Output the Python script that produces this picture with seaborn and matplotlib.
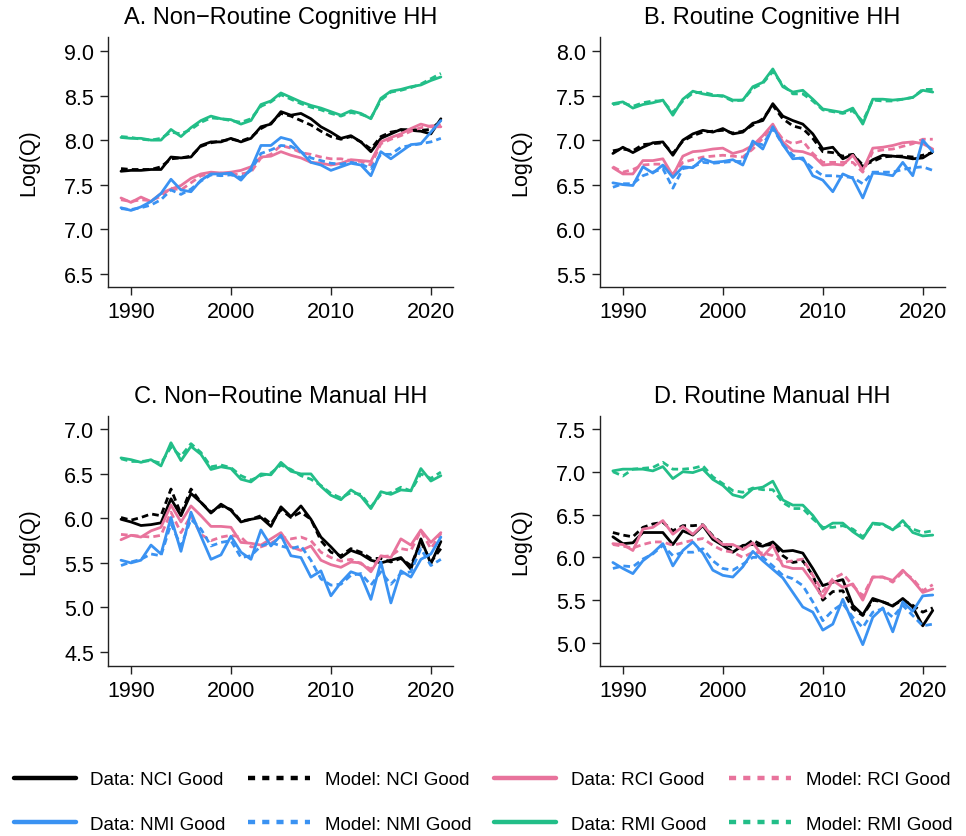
import numpy as np
import pandas as pd
import matplotlib.pyplot as plt
import seaborn as sns
from matplotlib.lines import Line2D

years = list(range(1989, 2022))

# Panel A: Non-Routine Cognitive HH
a_data_nci = [7.65, 7.66, 7.66, 7.67, 7.67, 7.81, 7.80, 7.81, 7.94, 7.98, 7.98, 8.02, 7.98, 8.02, 8.15, 8.18, 8.32, 8.28, 8.30, 8.24, 8.15, 8.09, 8.02, 8.05, 7.98, 7.87, 8.02, 8.07, 8.12, 8.11, 8.10, 8.07, 8.24]
a_model_nci = [7.68, 7.67, 7.67, 7.67, 7.70, 7.79, 7.80, 7.82, 7.93, 7.97, 7.99, 8.01, 7.99, 8.03, 8.13, 8.19, 8.30, 8.27, 8.22, 8.17, 8.10, 8.04, 8.01, 8.04, 7.98, 7.90, 8.04, 8.09, 8.11, 8.12, 8.11, 8.12, 8.22]
a_data_rci = [7.35, 7.30, 7.36, 7.31, 7.40, 7.45, 7.49, 7.57, 7.62, 7.64, 7.63, 7.64, 7.66, 7.70, 7.81, 7.82, 7.87, 7.83, 7.80, 7.75, 7.74, 7.72, 7.74, 7.78, 7.77, 7.76, 7.98, 8.03, 8.07, 8.13, 8.18, 8.15, 8.15]
a_model_rci = [7.33, 7.31, 7.33, 7.32, 7.37, 7.46, 7.44, 7.52, 7.60, 7.62, 7.63, 7.61, 7.62, 7.64, 7.80, 7.84, 7.94, 7.91, 7.86, 7.84, 7.81, 7.79, 7.79, 7.77, 7.76, 7.72, 7.96, 8.01, 8.05, 8.10, 8.14, 8.16, 8.17]
a_data_nmi = [7.24, 7.21, 7.25, 7.31, 7.40, 7.56, 7.44, 7.42, 7.55, 7.62, 7.62, 7.63, 7.55, 7.68, 7.94, 7.94, 8.03, 8.00, 7.87, 7.75, 7.72, 7.66, 7.70, 7.74, 7.72, 7.60, 7.87, 7.79, 7.87, 7.95, 7.96, 8.09, 8.22]
a_model_nmi = [7.23, 7.22, 7.24, 7.27, 7.33, 7.44, 7.39, 7.45, 7.54, 7.61, 7.60, 7.61, 7.58, 7.66, 7.85, 7.89, 7.94, 7.93, 7.87, 7.80, 7.77, 7.74, 7.73, 7.75, 7.73, 7.68, 7.84, 7.84, 7.92, 7.94, 7.96, 7.98, 8.02]
a_data_rmi = [8.03, 8.02, 8.02, 8.00, 8.00, 8.12, 8.04, 8.14, 8.22, 8.27, 8.24, 8.23, 8.18, 8.22, 8.40, 8.44, 8.53, 8.48, 8.43, 8.39, 8.36, 8.32, 8.28, 8.33, 8.30, 8.24, 8.47, 8.55, 8.57, 8.60, 8.62, 8.67, 8.71]
a_model_rmi = [8.04, 8.03, 8.01, 8.00, 8.02, 8.09, 8.07, 8.12, 8.20, 8.25, 8.24, 8.22, 8.20, 8.24, 8.38, 8.43, 8.51, 8.46, 8.41, 8.37, 8.34, 8.30, 8.27, 8.31, 8.29, 8.25, 8.45, 8.54, 8.56, 8.59, 8.63, 8.69, 8.75]

# Panel B: Routine Cognitive HH
b_data_nci = [6.85, 6.92, 6.86, 6.92, 6.97, 6.98, 6.83, 7.00, 7.07, 7.11, 7.09, 7.13, 7.07, 7.09, 7.19, 7.22, 7.41, 7.27, 7.22, 7.18, 7.07, 6.90, 6.92, 6.79, 6.84, 6.70, 6.78, 6.83, 6.82, 6.81, 6.79, 6.80, 6.87]
b_model_nci = [6.88, 6.90, 6.88, 6.95, 6.96, 6.97, 6.85, 6.99, 7.05, 7.09, 7.10, 7.11, 7.08, 7.10, 7.17, 7.24, 7.39, 7.24, 7.16, 7.13, 7.02, 6.87, 6.86, 6.82, 6.84, 6.72, 6.76, 6.81, 6.82, 6.82, 6.81, 6.83, 6.86]
b_data_rci = [6.69, 6.62, 6.62, 6.77, 6.77, 6.79, 6.60, 6.82, 6.87, 6.88, 6.90, 6.91, 6.85, 6.88, 6.94, 7.05, 7.18, 6.98, 6.88, 6.87, 6.83, 6.72, 6.73, 6.72, 6.83, 6.66, 6.91, 6.92, 6.94, 6.97, 6.98, 6.96, 6.90]
b_model_rci = [6.70, 6.64, 6.67, 6.72, 6.73, 6.73, 6.62, 6.75, 6.78, 6.81, 6.82, 6.83, 6.82, 6.81, 6.90, 7.02, 7.16, 7.01, 6.96, 6.99, 6.85, 6.75, 6.75, 6.75, 6.75, 6.64, 6.87, 6.89, 6.90, 6.93, 6.96, 7.01, 7.01]
b_data_nmi = [6.52, 6.50, 6.49, 6.70, 6.63, 6.72, 6.58, 6.70, 6.69, 6.79, 6.75, 6.76, 6.78, 6.72, 6.99, 6.90, 7.15, 6.95, 6.79, 6.80, 6.60, 6.55, 6.42, 6.62, 6.57, 6.35, 6.63, 6.62, 6.60, 6.75, 6.60, 7.00, 6.87]
b_model_nmi = [6.47, 6.51, 6.51, 6.60, 6.64, 6.68, 6.46, 6.68, 6.70, 6.75, 6.74, 6.75, 6.76, 6.76, 6.96, 6.95, 7.13, 6.95, 6.83, 6.78, 6.68, 6.60, 6.60, 6.59, 6.58, 6.51, 6.64, 6.64, 6.64, 6.67, 6.69, 6.70, 6.66]
b_data_rmi = [7.41, 7.43, 7.36, 7.40, 7.42, 7.45, 7.28, 7.46, 7.55, 7.52, 7.50, 7.50, 7.45, 7.45, 7.60, 7.65, 7.80, 7.60, 7.54, 7.56, 7.46, 7.35, 7.33, 7.31, 7.36, 7.18, 7.46, 7.46, 7.45, 7.46, 7.48, 7.56, 7.54]
b_model_rmi = [7.40, 7.42, 7.38, 7.42, 7.44, 7.44, 7.31, 7.44, 7.53, 7.54, 7.51, 7.49, 7.44, 7.45, 7.58, 7.64, 7.77, 7.62, 7.52, 7.52, 7.44, 7.34, 7.32, 7.30, 7.33, 7.21, 7.45, 7.44, 7.44, 7.46, 7.48, 7.57, 7.57]

# Panel C: Non-Routine Manual HH
c_data_nci = [5.99, 5.96, 5.92, 5.93, 5.95, 6.22, 6.03, 6.28, 6.18, 6.06, 6.16, 6.09, 5.96, 5.99, 6.01, 5.91, 6.13, 6.02, 6.14, 5.99, 5.79, 5.68, 5.56, 5.64, 5.60, 5.53, 5.50, 5.53, 5.56, 5.43, 5.77, 5.49, 5.74]
c_model_nci = [6.01, 5.98, 6.01, 6.05, 6.03, 6.33, 6.05, 6.33, 6.18, 6.07, 6.14, 6.10, 5.97, 5.99, 6.03, 5.94, 6.10, 6.01, 6.07, 5.99, 5.75, 5.62, 5.58, 5.66, 5.62, 5.55, 5.55, 5.51, 5.55, 5.47, 5.74, 5.51, 5.66]
c_data_rci = [5.76, 5.81, 5.79, 5.86, 5.90, 6.15, 5.96, 6.14, 6.03, 5.91, 5.91, 5.90, 5.73, 5.72, 5.70, 5.77, 5.84, 5.68, 5.64, 5.69, 5.53, 5.48, 5.45, 5.51, 5.50, 5.40, 5.58, 5.56, 5.77, 5.70, 5.87, 5.73, 5.84]
c_model_rci = [5.82, 5.81, 5.80, 5.79, 5.81, 6.07, 5.84, 6.03, 5.82, 5.75, 5.79, 5.81, 5.79, 5.68, 5.68, 5.72, 5.79, 5.77, 5.79, 5.75, 5.62, 5.56, 5.52, 5.54, 5.49, 5.43, 5.57, 5.58, 5.66, 5.64, 5.86, 5.66, 5.83]
c_data_nmi = [5.53, 5.50, 5.53, 5.70, 5.60, 6.01, 5.63, 6.07, 5.80, 5.54, 5.59, 5.80, 5.62, 5.54, 5.87, 5.69, 5.81, 5.58, 5.56, 5.34, 5.41, 5.13, 5.28, 5.40, 5.36, 5.09, 5.51, 5.05, 5.41, 5.34, 5.54, 5.60, 5.79]
c_model_nmi = [5.47, 5.51, 5.54, 5.60, 5.58, 5.94, 5.69, 5.99, 5.88, 5.69, 5.73, 5.75, 5.56, 5.58, 5.69, 5.73, 5.69, 5.66, 5.69, 5.53, 5.32, 5.25, 5.26, 5.36, 5.38, 5.25, 5.40, 5.26, 5.38, 5.40, 5.66, 5.47, 5.54]
c_data_rmi = [6.68, 6.66, 6.63, 6.66, 6.59, 6.85, 6.65, 6.81, 6.72, 6.55, 6.58, 6.56, 6.44, 6.41, 6.50, 6.49, 6.63, 6.53, 6.50, 6.50, 6.36, 6.26, 6.21, 6.32, 6.25, 6.11, 6.30, 6.27, 6.32, 6.31, 6.56, 6.42, 6.48]
c_model_rmi = [6.67, 6.64, 6.64, 6.65, 6.62, 6.80, 6.70, 6.84, 6.74, 6.58, 6.60, 6.57, 6.48, 6.43, 6.48, 6.51, 6.60, 6.55, 6.48, 6.44, 6.37, 6.28, 6.23, 6.29, 6.27, 6.13, 6.27, 6.29, 6.35, 6.31, 6.50, 6.45, 6.52]

# Panel D: Routine Manual HH
d_data_nci = [6.24, 6.16, 6.17, 6.29, 6.29, 6.29, 6.15, 6.31, 6.26, 6.37, 6.21, 6.14, 6.06, 6.14, 6.15, 6.13, 6.18, 6.07, 6.08, 6.05, 5.87, 5.67, 5.71, 5.74, 5.44, 5.33, 5.52, 5.48, 5.43, 5.52, 5.42, 5.20, 5.38]
d_model_nci = [6.29, 6.26, 6.24, 6.35, 6.39, 6.41, 6.31, 6.37, 6.37, 6.38, 6.25, 6.16, 6.12, 6.12, 6.20, 6.14, 6.15, 6.02, 5.94, 5.96, 5.79, 5.50, 5.60, 5.61, 5.40, 5.32, 5.50, 5.48, 5.44, 5.50, 5.44, 5.36, 5.41]
d_data_rci = [6.16, 6.15, 6.08, 6.33, 6.35, 6.43, 6.27, 6.36, 6.27, 6.38, 6.24, 6.15, 6.15, 6.09, 6.17, 6.01, 6.14, 5.90, 5.87, 5.87, 5.71, 5.53, 5.73, 5.65, 5.69, 5.50, 5.77, 5.77, 5.73, 5.85, 5.73, 5.59, 5.63]
d_model_rci = [6.15, 6.13, 6.11, 6.15, 6.18, 6.18, 6.14, 6.17, 6.20, 6.22, 6.14, 6.08, 6.06, 6.00, 6.06, 6.05, 6.02, 5.94, 5.96, 5.98, 5.79, 5.60, 5.75, 5.81, 5.67, 5.55, 5.77, 5.77, 5.71, 5.83, 5.75, 5.61, 5.68]
d_data_nmi = [5.94, 5.87, 5.81, 5.96, 6.05, 6.16, 5.90, 6.08, 6.18, 6.05, 5.85, 5.79, 5.77, 5.89, 6.07, 5.96, 5.86, 5.76, 5.59, 5.42, 5.36, 5.15, 5.22, 5.51, 5.24, 4.98, 5.30, 5.41, 5.13, 5.48, 5.37, 5.55, 5.56]
d_model_nmi = [5.87, 5.90, 5.89, 5.98, 6.04, 6.14, 6.02, 6.06, 6.06, 6.10, 5.96, 5.87, 5.85, 5.92, 6.00, 6.00, 5.90, 5.79, 5.75, 5.67, 5.48, 5.26, 5.38, 5.46, 5.30, 5.18, 5.36, 5.40, 5.30, 5.44, 5.32, 5.20, 5.22]
d_data_rmi = [7.01, 7.03, 7.03, 7.03, 7.01, 7.06, 6.92, 7.00, 6.99, 7.03, 6.91, 6.84, 6.73, 6.70, 6.80, 6.82, 6.89, 6.67, 6.61, 6.61, 6.49, 6.33, 6.40, 6.40, 6.30, 6.22, 6.40, 6.39, 6.32, 6.43, 6.29, 6.25, 6.26]
d_model_rmi = [7.00, 6.95, 7.03, 7.04, 7.05, 7.11, 7.03, 7.03, 7.04, 7.07, 6.94, 6.86, 6.78, 6.76, 6.81, 6.79, 6.79, 6.64, 6.57, 6.57, 6.45, 6.35, 6.35, 6.37, 6.33, 6.24, 6.39, 6.38, 6.33, 6.39, 6.33, 6.29, 6.31]

titles = ['A. Non\u2212Routine Cognitive HH', 'B. Routine Cognitive HH',
          'C. Non\u2212Routine Manual HH', 'D. Routine Manual HH']
goods = ['NCI', 'RCI', 'NMI', 'RMI']
colors = {'NCI': '#000000', 'RCI': '#E8739C', 'NMI': '#3A92F2', 'RMI': '#22BE88'}
yticks = [[6.5, 7.0, 7.5, 8.0, 8.5, 9.0],
          [5.5, 6.0, 6.5, 7.0, 7.5, 8.0],
          [4.5, 5.0, 5.5, 6.0, 6.5, 7.0],
          [5.0, 5.5, 6.0, 6.5, 7.0, 7.5]]
ylims = [(6.35, 9.16), (5.35, 8.16), (4.34, 7.15), (4.73, 7.65)]

panels = [
    {'NCI': (a_data_nci, a_model_nci), 'RCI': (a_data_rci, a_model_rci),
     'NMI': (a_data_nmi, a_model_nmi), 'RMI': (a_data_rmi, a_model_rmi)},
    {'NCI': (b_data_nci, b_model_nci), 'RCI': (b_data_rci, b_model_rci),
     'NMI': (b_data_nmi, b_model_nmi), 'RMI': (b_data_rmi, b_model_rmi)},
    {'NCI': (c_data_nci, c_model_nci), 'RCI': (c_data_rci, c_model_rci),
     'NMI': (c_data_nmi, c_model_nmi), 'RMI': (c_data_rmi, c_model_rmi)},
    {'NCI': (d_data_nci, d_model_nci), 'RCI': (d_data_rci, d_model_rci),
     'NMI': (d_data_nmi, d_model_nmi), 'RMI': (d_data_rmi, d_model_rmi)},
]

sns.set_style('ticks')
plt.rcParams['font.family'] = ['Liberation Sans', 'DejaVu Sans']
plt.rcParams['text.color'] = 'black'
plt.rcParams['axes.labelcolor'] = 'black'
plt.rcParams['xtick.color'] = 'black'
plt.rcParams['ytick.color'] = 'black'

fig = plt.figure(figsize=(9.66, 8.37), dpi=100)
positions = [(0.1118, 0.656), (0.621, 0.656), (0.1118, 0.203), (0.621, 0.203)]
W, H = 0.357, 0.2987

LW = 2.0
DASH = (2.4, 1.5)

for i, pan in enumerate(panels):
    ax = fig.add_axes([positions[i][0], positions[i][1], W, H])
    rows = []
    for g in goods:
        data, model = pan[g]
        for y, v in zip(years, data):
            rows.append({'year': y, 'value': v, 'good': g, 'src': 'Data'})
        for y, v in zip(years, model):
            rows.append({'year': y, 'value': v, 'good': g, 'src': 'Model'})
    df = pd.DataFrame(rows)
    sns.lineplot(data=df, x='year', y='value', hue='good', style='src',
                 palette=colors, hue_order=goods, style_order=['Data', 'Model'],
                 dashes={'Data': '', 'Model': DASH}, linewidth=LW,
                 legend=False, ax=ax, estimator=None)
    ax.set_xlim(1987.7, 2022.2)
    ax.set_ylim(*ylims[i])
    ax.set_xticks([1990, 2000, 2010, 2020])
    ax.set_yticks(yticks[i])
    ax.set_yticklabels([f'{t:.1f}' for t in yticks[i]])
    ax.set_xlabel('')
    ax.set_ylabel('Log(Q)', fontsize=15.5, labelpad=18)
    ax.set_title(titles[i], fontsize=17, pad=10)
    ax.tick_params(labelsize=15.5, length=6, width=1, color='#222222', pad=4)
    for s in ['left', 'bottom']:
        ax.spines[s].set_linewidth(1)
        ax.spines[s].set_color('#222222')
    sns.despine(ax=ax)

handles = []
labels = []
for g in ['NCI', 'NMI']:
    handles.append(Line2D([], [], color=colors[g], lw=3.2))
    labels.append(f'Data: {g} Good')
for g in ['NCI', 'NMI']:
    handles.append(Line2D([], [], color=colors[g], lw=3.2, dashes=(1.6, 1.6)))
    labels.append(f'Model: {g} Good')
for g in ['RCI', 'RMI']:
    handles.append(Line2D([], [], color=colors[g], lw=3.2))
    labels.append(f'Data: {g} Good')
for g in ['RCI', 'RMI']:
    handles.append(Line2D([], [], color=colors[g], lw=3.2, dashes=(1.6, 1.6)))
    labels.append(f'Model: {g} Good')

fig.legend(handles, labels, ncol=4, loc='lower center', bbox_to_anchor=(0.5, -0.016),
           frameon=False, fontsize=13.5, handlelength=3.3, handletextpad=0.8,
           columnspacing=1.2, labelspacing=1.45)

fig.savefig('out.png', dpi=100)
